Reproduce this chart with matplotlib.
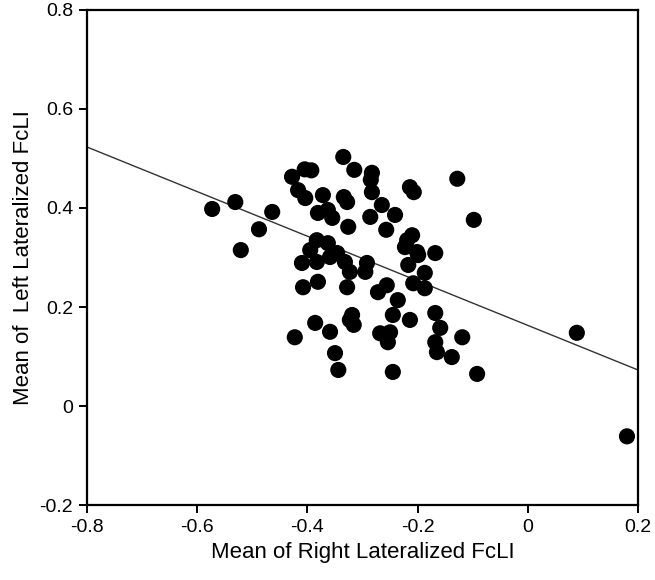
import matplotlib
matplotlib.use("Agg")
import matplotlib.pyplot as plt
import numpy as np

# values
right_fcli = [
    -0.573, -0.531, -0.521, -0.488, -0.464,
    -0.405, -0.393, -0.428, -0.417, -0.404, -0.372, -0.381, -0.363, -0.355,
    -0.383, -0.363, -0.395, -0.346,
    -0.335, -0.315, -0.283, -0.285, -0.214, -0.207, -0.334, -0.328, -0.283,
    -0.265, -0.241, -0.286, -0.326, -0.257, -0.219, -0.210, -0.223, -0.201,
    -0.128, -0.098,
    -0.410, -0.383, -0.359, -0.408, -0.381, -0.328, -0.332, -0.323, -0.292,
    -0.295, -0.256, -0.272, -0.236, -0.217, -0.208, -0.199, -0.168, -0.187,
    -0.187,
    -0.423, -0.386, -0.359, -0.350, -0.344, -0.323, -0.319, -0.316, -0.245,
    -0.214, -0.268, -0.250, -0.254, -0.245, -0.168, -0.159, -0.168, -0.165,
    -0.138, -0.119, -0.092,
    0.089, 0.180,
]
left_fcli = [
    0.398, 0.412, 0.315, 0.357, 0.392,
    0.478, 0.476, 0.463, 0.436, 0.420, 0.426, 0.390, 0.396, 0.380,
    0.335, 0.329, 0.315, 0.309,
    0.503, 0.477, 0.471, 0.457, 0.442, 0.432, 0.422, 0.412, 0.432,
    0.406, 0.386, 0.382, 0.362, 0.356, 0.335, 0.345, 0.321, 0.311,
    0.459, 0.376,
    0.289, 0.291, 0.301, 0.240, 0.251, 0.240, 0.291, 0.271, 0.289,
    0.271, 0.244, 0.230, 0.214, 0.285, 0.248, 0.305, 0.309, 0.269,
    0.238,
    0.139, 0.168, 0.150, 0.107, 0.073, 0.174, 0.184, 0.164, 0.184,
    0.174, 0.147, 0.149, 0.129, 0.069, 0.188, 0.158, 0.129, 0.109,
    0.099, 0.139, 0.065,
    0.148, -0.061,
]

# fitted line as drawn in the reference
fit_slope = -0.45
fit_intercept = 0.163

x_ticks = [-0.8, -0.6, -0.4, -0.2, 0, 0.2]
y_ticks = [-0.2, 0, 0.2, 0.4, 0.6, 0.8]

plt.rcParams["font.family"] = ["Liberation Sans", "DejaVu Sans"]

fig = plt.figure(figsize=(6.55, 5.8), dpi=100)
ax = fig.add_axes([0.133, 0.129, 0.841, 0.854])

ax.scatter(right_fcli, left_fcli, s=135, color="black", edgecolors="none", zorder=3)

line_x = np.array([-0.8, 0.2])
ax.plot(line_x, fit_slope * line_x + fit_intercept, color="#333333", linewidth=1.0, zorder=2)

ax.set_xlim(-0.8, 0.2)
ax.set_ylim(-0.2, 0.8)
ax.set_xticks(x_ticks)
ax.set_yticks(y_ticks)
ax.set_xticklabels([f"{t:g}" for t in x_ticks])
ax.set_yticklabels([f"{t:g}" for t in y_ticks])

for s in ax.spines.values():
    s.set_linewidth(1.6)
ax.tick_params(direction="out", length=6, width=1.4, labelsize=14, pad=4,
               top=False, right=False)

ax.set_xlabel("Mean of Right Lateralized FcLI", fontsize=16, labelpad=4)
ax.set_ylabel("Mean of  Left Lateralized FcLI", fontsize=16, labelpad=4)

fig.savefig("out.png", dpi=100)
